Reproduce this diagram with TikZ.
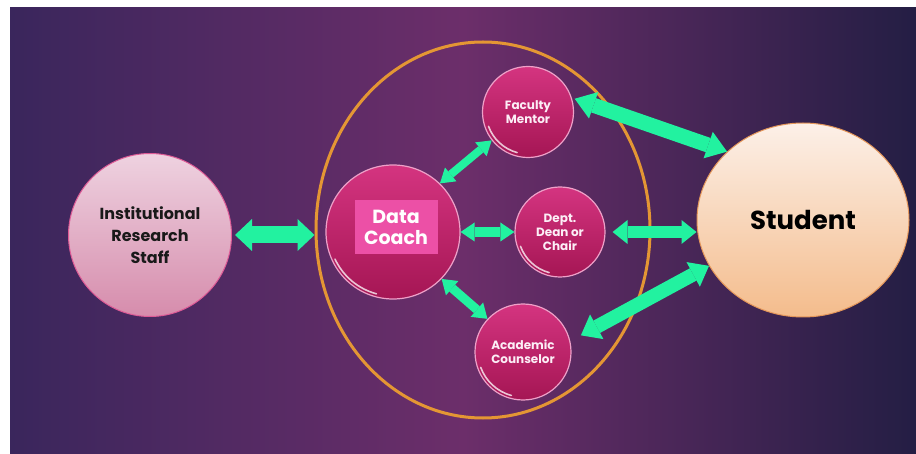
\documentclass[tikz,border=0pt]{standalone}
\usepackage{fontspec}
\setmainfont{Poppins}
\usetikzlibrary{arrows.meta,shapes.geometric,calc}
\definecolor{bgL}{RGB}{58,38,92}
\definecolor{bgM}{RGB}{108,46,106}
\definecolor{bgR}{RGB}{36,30,68}
\definecolor{gArr}{RGB}{34,242,160}
\definecolor{orRing}{RGB}{228,150,52}
\definecolor{magTop}{RGB}{212,52,128}
\definecolor{magBot}{RGB}{165,22,84}
\definecolor{magEdge}{RGB}{238,160,200}
\definecolor{dcBoxC}{RGB}{236,80,166}
\definecolor{irTop}{RGB}{238,210,224}
\definecolor{irBot}{RGB}{214,140,172}
\definecolor{irEdge}{RGB}{222,90,150}
\definecolor{stTop}{RGB}{252,240,232}
\definecolor{stBot}{RGB}{244,188,140}
\definecolor{stEdge}{RGB}{228,150,90}
\definecolor{txtW}{RGB}{252,238,246}
\tikzset{
  garr/.style n args={3}{draw=gArr, line width=#1,
    arrows={Triangle[length=#3,width=#2,line width=0pt]-Triangle[length=#3,width=#2,line width=0pt]}},
  magc/.style={circle, inner sep=0pt, top color=magTop, bottom color=magBot,
    draw=magEdge, line width=1.2pt, text=txtW, align=center,
    font=\fontsize{12}{14}\selectfont\bfseries},
  shine/.style={draw=white, opacity=0.75, line width=1.6pt, line cap=round},
  dcbox/.style={rectangle, fill=dcBoxC, inner sep=0pt, minimum width=83pt, minimum height=54pt,
    text=white, align=center, font=\fontsize{19}{21}\selectfont\bfseries},
  ircirc/.style={circle, inner sep=0pt, top color=irTop, bottom color=irBot, draw=irEdge,
    line width=1pt, text=black!90, align=center, font=\fontsize{16}{22}\selectfont\bfseries},
  studell/.style={ellipse, inner sep=0pt, top color=stTop, bottom color=stBot, draw=stEdge,
    line width=1pt, text=black, font=\fontsize{26}{30}\selectfont\bfseries},
  ring/.style={ellipse, inner sep=0pt, draw=orRing, line width=3pt}
}
\begin{document}
\begin{tikzpicture}[x=1pt,y=-1pt]
\useasboundingbox (0,0) rectangle (916,454);
\fill[white] (0,0) rectangle (916,454);
\fill[left color=bgL, right color=bgR, middle color=bgM] (10,8) rectangle (916,454);

\node[ring, minimum width=334pt, minimum height=376pt] (grp) at (483,230) {};

\node[ircirc, minimum size=163pt] (ir) at (150,235) {Institutional\\Research\\Staff};
\node[magc, minimum size=134pt] (dc) at (393,232) {};
\node[dcbox] (dcb) at (396,227) {Data\\Coach};
\node[magc, minimum size=91pt] (fm) at (528,112) {Faculty\\Mentor};
\node[magc, minimum size=90pt] (dept) at (560,232) {Dept.\\Dean or\\Chair};
\node[magc, minimum size=96pt] (ac) at (523,352) {Academic\\Counselor};
\node[studell, minimum width=212pt, minimum height=194pt] (st) at (803,220) {Student};

% glossy highlights on the lower-left rims
\draw[shine] (dc.center) ++(155:64) arc[start angle=155, end angle=105, radius=64];
\draw[shine] (fm.center) ++(160:42) arc[start angle=160, end angle=105, radius=42];
\draw[shine] (dept.center) ++(160:42) arc[start angle=160, end angle=105, radius=42];
\draw[shine] (ac.center) ++(160:45) arc[start angle=160, end angle=105, radius=45];

\draw[garr={17pt}{32pt}{17pt}, shorten <=3pt] (ir.east) -- (ir.east -| grp.west);
\draw[garr={10pt}{19pt}{14pt}] (dc.east) -- (dept.west);
\draw[garr={12pt}{24pt}{15pt}, shorten <=7pt] (dept.east) -- (dept.east -| st.west);
\draw[garr={8pt}{18pt}{14pt}] (dc.46) -- (fm.218);
\draw[garr={9pt}{19pt}{14pt}] (dc.316) -- (ac.137);
\draw[garr={15pt}{28pt}{20pt}, shorten <=3pt] (fm.18) -- (st.138);
\draw[garr={14pt}{28pt}{18pt}, shorten <=12pt] (ac.13) -- (st.206);
\end{tikzpicture}
\end{document}
